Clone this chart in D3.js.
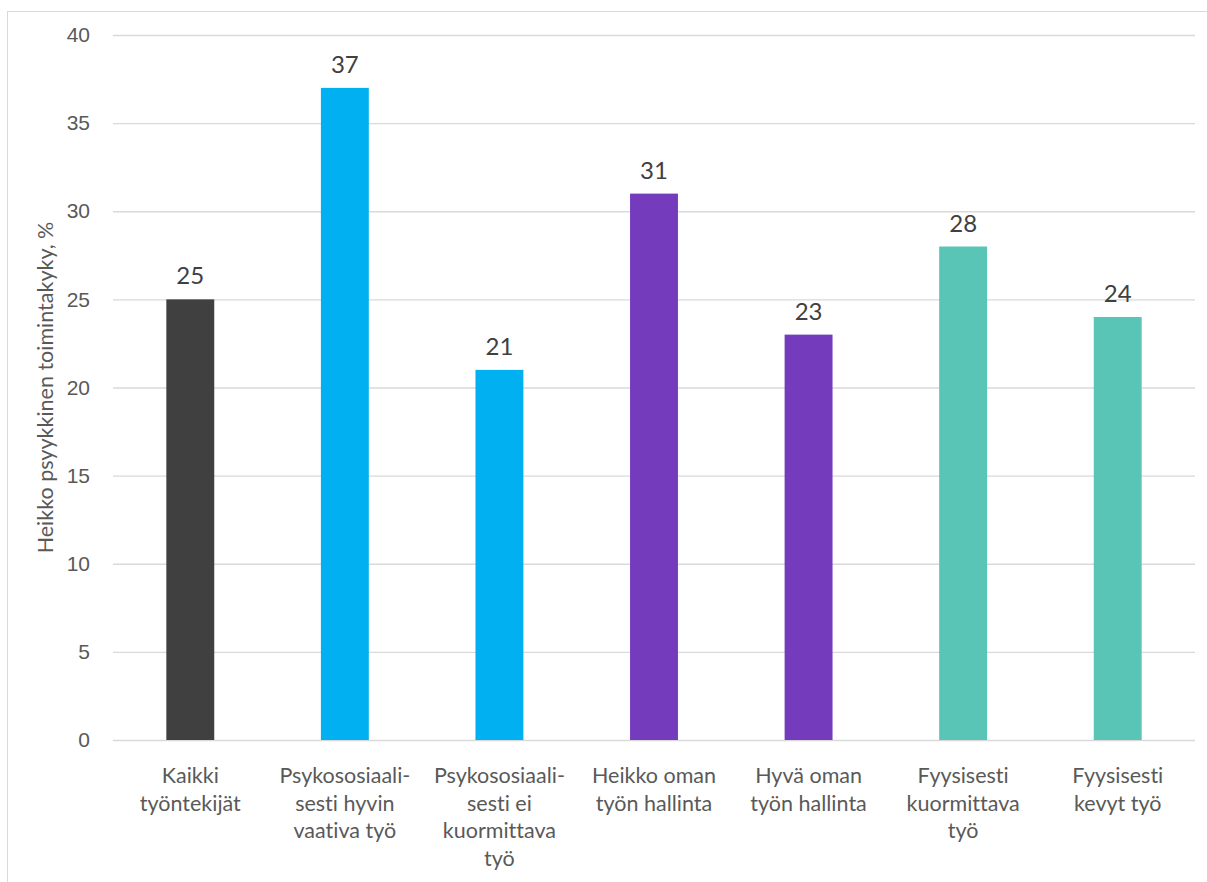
<!DOCTYPE html>
<html>
<head>
<meta charset="utf-8">
<script src="https://cdn.jsdelivr.net/npm/d3@7"></script>
<style>
  html, body { margin: 0; padding: 0; background: #fff; }
  svg { display: block; font-family: Lato, "Open Sans", sans-serif; font-variant-ligatures: none; font-feature-settings: "liga" 0, "clig" 0; }
</style>
</head>
<body>
<svg id="chart" width="1207" height="882"></svg>
<script>
// Osuus työntekijöistä, joilla heikko psyykkinen toimintakyky (%)
const categories = [
  ["Kaikki", "työntekijät"],
  ["Psykososiaali-", "sesti hyvin", "vaativa työ"],
  ["Psykososiaali-", "sesti ei", "kuormittava", "työ"],
  ["Heikko oman", "työn hallinta"],
  ["Hyvä oman", "työn hallinta"],
  ["Fyysisesti", "kuormittava", "työ"],
  ["Fyysisesti", "kevyt työ"]
];
const values = [25, 37, 21, 31, 23, 28, 24];
const groups = ["kaikki", "psykososiaalinen", "psykososiaalinen", "hallinta", "hallinta", "fyysinen", "fyysinen"];
const yTicks = [0, 5, 10, 15, 20, 25, 30, 35, 40];
const yTitle = "Heikko psyykkinen toimintakyky, %";

const colorByGroup = {
  kaikki: "#404040",
  psykososiaalinen: "#00B0F0",
  hallinta: "#753BBD",
  fyysinen: "#59C5B7"
};

const svg = d3.select("#chart");
const W = 1207, H = 882;
const plot = { left: 113, right: 1195, top: 35, bottom: 740 };

// Chart frame
svg.append("rect")
  .attr("x", 7.5).attr("y", 11.5)
  .attr("width", W).attr("height", H)
  .attr("fill", "none").attr("stroke", "#d9d9d9").attr("stroke-width", 1);

const x = d3.scaleBand()
  .domain(d3.range(categories.length))
  .range([plot.left, plot.right])
  .paddingInner(0.69)
  .paddingOuter(0.345);

const y = d3.scaleLinear()
  .domain([0, 40])
  .range([plot.bottom, plot.top]);

// Horizontal gridlines and y tick labels
const yAxis = d3.axisLeft(y)
  .tickValues(yTicks)
  .tickSize(-(plot.right - plot.left))
  .tickPadding(23)
  .tickFormat(d3.format("d"));

const gy = svg.append("g")
  .attr("transform", `translate(${plot.left},0)`)
  .call(yAxis);
gy.select(".domain").remove();
gy.selectAll(".tick line").attr("stroke", "#d9d9d9").attr("stroke-width", 1.3);
gy.selectAll(".tick text")
  .attr("fill", "#595959")
  .style("font-size", "21px");

// Bars
svg.append("g").selectAll("rect")
  .data(values)
  .join("rect")
  .attr("x", (d, i) => x(i))
  .attr("width", x.bandwidth())
  .attr("y", d => y(d))
  .attr("height", d => y(0) - y(d))
  .attr("fill", (d, i) => colorByGroup[groups[i]]);

// Value labels above bars
svg.append("g").selectAll("text")
  .data(values)
  .join("text")
  .attr("x", (d, i) => x(i) + x.bandwidth() / 2)
  .attr("y", d => y(d) - 15)
  .attr("text-anchor", "middle")
  .attr("fill", "#404040")
  .style("font-size", "24px")
  .text(d => d);

// Category labels (multi-line)
const catG = svg.append("g").selectAll("text")
  .data(categories)
  .join("text")
  .attr("x", (d, i) => x(i) + x.bandwidth() / 2)
  .attr("y", 783)
  .attr("text-anchor", "middle")
  .attr("fill", "#595959")
  .style("font-size", "21.5px");
catG.selectAll("tspan")
  .data(d => d)
  .join("tspan")
  .attr("x", function () { return d3.select(this.parentNode).attr("x"); })
  .attr("dy", (d, i) => i === 0 ? 0 : 27.5)
  .text(d => d);

// Y axis title
svg.append("text")
  .attr("transform", `translate(53,${(plot.top + plot.bottom) / 2}) rotate(-90)`)
  .attr("text-anchor", "middle")
  .attr("fill", "#595959")
  .style("font-size", "21.5px")
  .text(yTitle);
</script>
</body>
</html>
